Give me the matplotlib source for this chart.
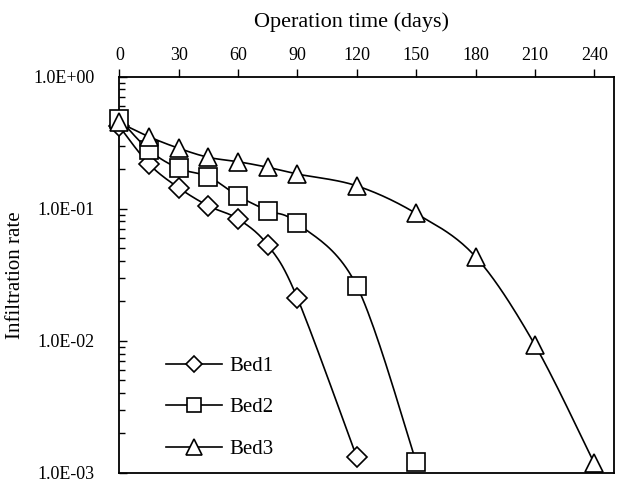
import numpy as np
import matplotlib
matplotlib.use("Agg")
import matplotlib.pyplot as plt
from matplotlib.ticker import LogLocator, FuncFormatter, NullFormatter

plt.rcParams["font.family"] = ["Liberation Serif", "DejaVu Serif"]

# Données
jours_bed1 = [0, 15, 30, 45, 60, 75, 90, 120]
taux_bed1 = [0.42, 0.218, 0.144, 0.105, 0.0836, 0.053, 0.021, 0.00131]

jours_bed2 = [0, 15, 30, 45, 60, 75, 90, 120, 150]
taux_bed2 = [0.48, 0.278, 0.202, 0.175, 0.125, 0.0966, 0.0775, 0.026, 0.00121]

jours_bed3 = [0, 15, 30, 45, 60, 75, 90, 120, 150, 180, 210, 240]
taux_bed3 = [0.45, 0.351, 0.287, 0.245, 0.227, 0.206, 0.183, 0.149, 0.092, 0.0433, 0.0093, 0.00118]

ticks_x = [0, 30, 60, 90, 120, 150, 180, 210, 240]


def lissage(x, y, n=24):
    # courbe lissée type Catmull-Rom (espace pixel approx.)
    px = np.asarray(x, float) * 1.978
    py = np.log10(np.asarray(y, float)) * 132.0
    pts = np.column_stack([px, py])
    pts = np.vstack([pts[0], pts, pts[-1]])
    out = []
    for i in range(1, len(pts) - 2):
        p0, p1, p2, p3 = pts[i - 1], pts[i], pts[i + 1], pts[i + 2]
        t = np.linspace(0, 1, n)[:, None]
        c = 0.5 * ((2 * p1) + (-p0 + p2) * t + (2 * p0 - 5 * p1 + 4 * p2 - p3) * t**2
                   + (-p0 + 3 * p1 - 3 * p2 + p3) * t**3)
        out.append(c)
    c = np.vstack(out)
    return c[:, 0] / 1.978, 10 ** (c[:, 1] / 132.0)


fig = plt.figure(figsize=(6.17, 4.83), dpi=100)
ax = fig.add_axes([0.1934, 0.0213, 0.8018, 0.8199])

series = [
    (jours_bed1, taux_bed1, "D", 10, "Bed1"),
    (jours_bed2, taux_bed2, "s", 12.5, "Bed2"),
    (jours_bed3, taux_bed3, "^", 13, "Bed3"),
]
handles = []
for jx, ty, mk, ms, nom in series:
    lx, ly = lissage(jx, ty)
    ax.plot(lx, ly, color="black", lw=1.2, zorder=2)
    ax.plot(jx, ty, ls="none", marker=mk, ms=ms, mfc="white", mec="black",
            mew=1.2, zorder=3, clip_on=False)
    h, = ax.plot([], [], color="black", lw=1.2, marker=mk, ms=ms * 0.85,
                 mfc="white", mec="black", mew=1.2, label=nom)
    handles.append(h)

ax.set_yscale("log")
ax.set_ylim(1e-3, 1.0)
ax.set_xlim(0, 250)

ax.xaxis.tick_top()
ax.xaxis.set_label_position("top")
ax.set_xticks(ticks_x)
ax.tick_params(axis="x", direction="out", length=6, width=1, labelsize=13, pad=3)
ax.set_xlabel("Operation time (days)", fontsize=16)
ax.xaxis.set_label_coords(0.47, 1.125)

ax.yaxis.set_major_locator(LogLocator(base=10, numticks=10))
ax.yaxis.set_minor_locator(LogLocator(base=10, subs=np.arange(2, 10), numticks=10))
ax.yaxis.set_major_formatter(FuncFormatter(lambda v, p: f"{v:.1E}"))
ax.yaxis.set_minor_formatter(NullFormatter())
ax.tick_params(axis="y", which="major", direction="in", length=6, width=1,
               labelsize=13, pad=18)
ax.tick_params(axis="y", which="minor", direction="in", length=4, width=1)
ax.set_ylabel("Infiltration rate", fontsize=15, labelpad=6)

for s in ax.spines.values():
    s.set_linewidth(1.3)

ax.legend(handles=handles, loc="lower left", bbox_to_anchor=(0.094, 0.035),
          frameon=False, fontsize=15, handlelength=2.7, handletextpad=0.35,
          labelspacing=1.05, borderpad=0, borderaxespad=0)

plt.savefig("out.png", dpi=100)
plt.close()
